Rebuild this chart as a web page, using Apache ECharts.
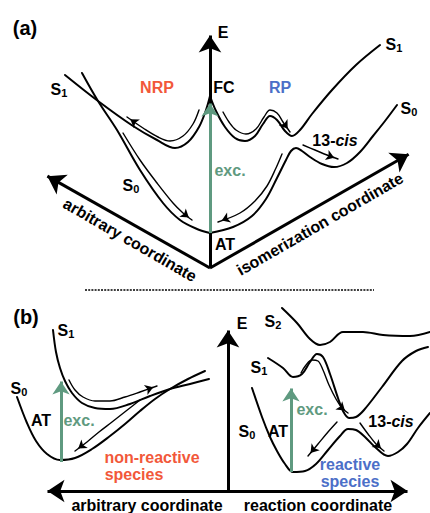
<!DOCTYPE html>
<html><head><meta charset="utf-8">
<script src="https://cdn.jsdelivr.net/npm/echarts@6/dist/echarts.min.js"></script>
<style>html,body{margin:0;padding:0;background:#fff}#c{width:430px;height:513px}</style>
</head><body><div id="c"></div>
<script>
// ---------- Panel (a) ----------
const aAxisE   = [[210,268],[210,27]];
const aAxisArb = [[210,268],[40,172]];
const aAxisIso = [[210,268],[416,150]];
const aS1Left  = [[65,75],[98,101],[133,126],[157,140],[175,148],[188,142],[199,127],[206,110],[210,96]];
const aS1Right = [[210,96],[216,111],[225,127],[235,138],[245,141],[255,136],[263,124],[270,116],[277,120],[285,131],[292,136],[300,130],[312,114],[332,90],[356,65],[380,45]];
const aS0Left  = [[82,73],[98,101],[117,130],[140,170],[163,203],[180,220],[197,229],[210,233]];
const aS0Right = [[210,233],[233,227],[252,216],[266,199],[277,178],[286,160],[291,151],[296,148],[302,151],[310,157],[322,164],[334,167],[347,163],[360,152],[373,136],[385,121],[397,105]];
const aArrNRP  = [[199,110],[193,124],[183,136],[170,141],[158,137],[143,128],[127,117]];
const aArrRP   = [[223,112],[229,122],[236,130],[246,134],[256,129],[264,117],[270,110],[277,113],[283,122],[290,132]];
const aArrS0L  = [[123,133],[140,160],[157,183],[173,203],[183,213],[192,220]];
const aArrS0R  = [[282,154],[276,168],[267,186],[255,201],[240,213],[218,222]];
const aArr13   = [[303,145],[315,150],[327,155],[338,159]];
const aExc     = [[210,233],[210,97]];
const separator = [[85,290],[374,290]];
// ---------- Panel (b) ----------
const bAxisE     = [[228,491],[228,322]];
const bAxisLeft  = [[228,491],[39,491]];
const bAxisRight = [[228,491],[416,491]];
const bS1Left  = [[53,330],[56,352],[60,368],[65,381],[72,393],[82,403],[95,408],[110,409],[130,404],[150,396],[170,389],[190,384],[209,379]];
const bS0Left  = [[17,397],[27,423],[36,441],[47,454],[60,460],[75,458],[92,449],[110,436],[125,424],[140,411],[155,399],[170,389],[188,379],[205,371]];
const bArrS1L  = [[69,380],[75,390],[83,397],[95,401],[110,401],[125,397],[140,392],[157,386]];
const bArrS0L  = [[140,400],[126,411],[112,422],[99,432],[87,442],[75,451]];
const bExcL    = [[61,462],[61,375]];
const bS2      = [[282,308],[297,323],[310,339],[320,345],[330,342],[343,332],[363,332],[383,335],[410,336],[430,332]];
const bS1Right = [[268,358],[283,368],[293,377],[302,374],[310,362],[317,354],[323,357],[330,374],[338,398],[343,411],[349,418],[356,417],[364,410],[382,387],[402,361],[416,351],[428,347]];
const bArrS1R  = [[301,373],[306,365],[312,360],[318,361],[323,370],[329,385],[336,399],[342,408],[348,413]];
const bS0Right = [[252,388],[262,417],[270,437],[277,451],[285,464],[293,472],[305,471],[316,464],[328,450],[340,436],[348,429],[356,430],[365,437],[375,447],[388,456],[398,452],[407,444],[418,428],[430,413]];
const bArrS0RL = [[337,422],[328,432],[318,444],[308,456]];
const bArrS0RR = [[360,423],[368,434],[376,444],[384,451]];
const bExcR    = [[291,472],[291,382]];
// ---------- Text ----------
const labelText = ['(a)','E','S1','NRP','FC','RP','S1','S0','13-cis','S0','exc.','AT','arbitrary coordinate','isomerization coordinate',
  '(b)','E','S1','S0','AT','exc.','non-reactive','species','S2','S1','S0','AT','exc.','13-cis','reactive','species','arbitrary coordinate','reaction coordinate'];
const labelAt = [[25,28],[223,32],[59,89],[157,87],[224,87],[280,87],[394,44],[409,108],[335,140],[131,185],[230,170],[225,244],[130,240],[320,224],
  [26,317],[242,323],[66,330],[19,388],[41,420],[79,420],[152,457],[134,474],[273,321],[259,367],[247,431],[278,431],[312,409],[391,421],[350,464],[350,481],[147,505],[318,505]];
const labelKind = ['big','b','b','o','b','bl','b','b','b','b','g','b','b','b',
  'big','b','b','b','b','g','o','o','b','b','b','b','g','b','bl','bl','b','b'];
const labelRot = [0,0,0,0,0,0,0,0,0,0,0,0,-30,30, 0,0,0,0,0,0,0,0,0,0,0,0,0,0,0,0,0,0];

const F = '"Liberation Sans", Arial, Helvetica, sans-serif';
const GREEN = '#5f9a80', ORANGE = '#f2583a', BLUE = '#4c6fc8';
function st(size, color, extra) { return Object.assign({fontFamily:F, fontWeight:'bold', fontSize:size, color:color, lineHeight:size+2, opacity:1, textBorderWidth:0}, extra||{}); }
const rich = {
  b: st(16,'#000'), big: st(20,'#000'), o: st(16,ORANGE), bl: st(16,BLUE), g: st(16,GREEN),
  it: st(16,'#000',{fontStyle:'italic'}),
  sub: st(11,'#000',{lineHeight:8, verticalAlign:'bottom'})
};
function fmt(t, k) {
  const m = /^S(\d)$/.exec(t);
  if (m) return '{b|S}{sub|' + m[1] + '}';
  if (t === '13-cis') return '{b|13-}{it|cis}';
  return '{' + k + '|' + t + '}';
}

function curve(pts, w, color, z) {
  return {type:'line', data:pts, smooth:0.35, showSymbol:false, symbol:'none', clip:false, silent:true,
    lineStyle:{width:w, color:color, cap:'round', join:'round'}, z:z||3};
}
function headSeg(path, h) {
  const n = path.length, b = path[n-1], a = path[n-2];
  const dx = b[0]-a[0], dy = b[1]-a[1], L = Math.hypot(dx,dy), ux = dx/L, uy = dy/L;
  const c = h/2;
  return {coords:[[b[0]-ux*(c+1), b[1]-uy*(c+1)], [b[0]-ux*c, b[1]-uy*c]]};
}
function arrowLine(path, h) {
  const n = path.length, b = path[n-1], a = path[0];
  const s = headSeg([a,b], h);
  return {coords:[a, s.coords[1]]};
}

const thinPaths = [aArrNRP, aArrRP, aArrS0L, aArrS0R, aArr13, bArrS1L, bArrS0L, bArrS1R, bArrS0RL, bArrS0RR];
const potentials = [aS1Left, aS1Right, aS0Left, aS0Right, bS1Left, bS0Left, bS2, bS1Right, bS0Right];
const axes = [aAxisE, aAxisArb, aAxisIso, bAxisE, bAxisLeft, bAxisRight];
const excs = [aExc, bExcL, bExcR];

const series = [];
potentials.forEach(p => series.push(curve(p, 2, '#000', 3)));
thinPaths.forEach(p => series.push(curve(p, 1.4, '#000', 4)));
series.push({type:'line', data:separator, showSymbol:false, symbol:'none', silent:true, z:2,
  lineStyle:{color:'#000', width:1.4, type:[2,1.2]}});
series.push({type:'lines', coordinateSystem:'cartesian2d', silent:true, z:5,
  symbol:['none','arrow'], symbolSize:[4.5,8], lineStyle:{color:'#000', width:1.3, opacity:1},
  data: thinPaths.map(p => headSeg(p, 8))});
series.push({type:'lines', coordinateSystem:'cartesian2d', silent:true, z:2,
  symbol:['none','arrow'], symbolSize:[10,17], lineStyle:{color:'#000', width:3, opacity:1},
  data: axes.map(p => arrowLine(p, 17))});
series.push({type:'lines', coordinateSystem:'cartesian2d', silent:true, z:6,
  symbol:['none','arrow'], symbolSize:[7,13], lineStyle:{color:GREEN, width:3, opacity:1},
  data: excs.map(p => arrowLine(p, 13))});
series.push({type:'scatter', silent:true, z:10, symbolSize:1, itemStyle:{color:'rgba(255,255,255,0)', opacity:1},
  data: labelText.map((t,i) => ({value:labelAt[i], label:{show:true, position:'inside', rotate:labelRot[i],
    opacity:1, color:'#000', textBorderWidth:0, textShadowBlur:0,
    formatter: fmt(t, labelKind[i]), rich: rich}}))});

const chart = echarts.init(document.getElementById('c'), null, {renderer:'svg', width:430, height:513});
chart.setOption({
  animation:false, backgroundColor:'#fff',
  grid:{left:0, right:0, top:0, bottom:0},
  xAxis:{type:'value', min:0, max:430, show:false},
  yAxis:{type:'value', min:0, max:513, inverse:true, show:false},
  series: series
});
</script></body></html>
